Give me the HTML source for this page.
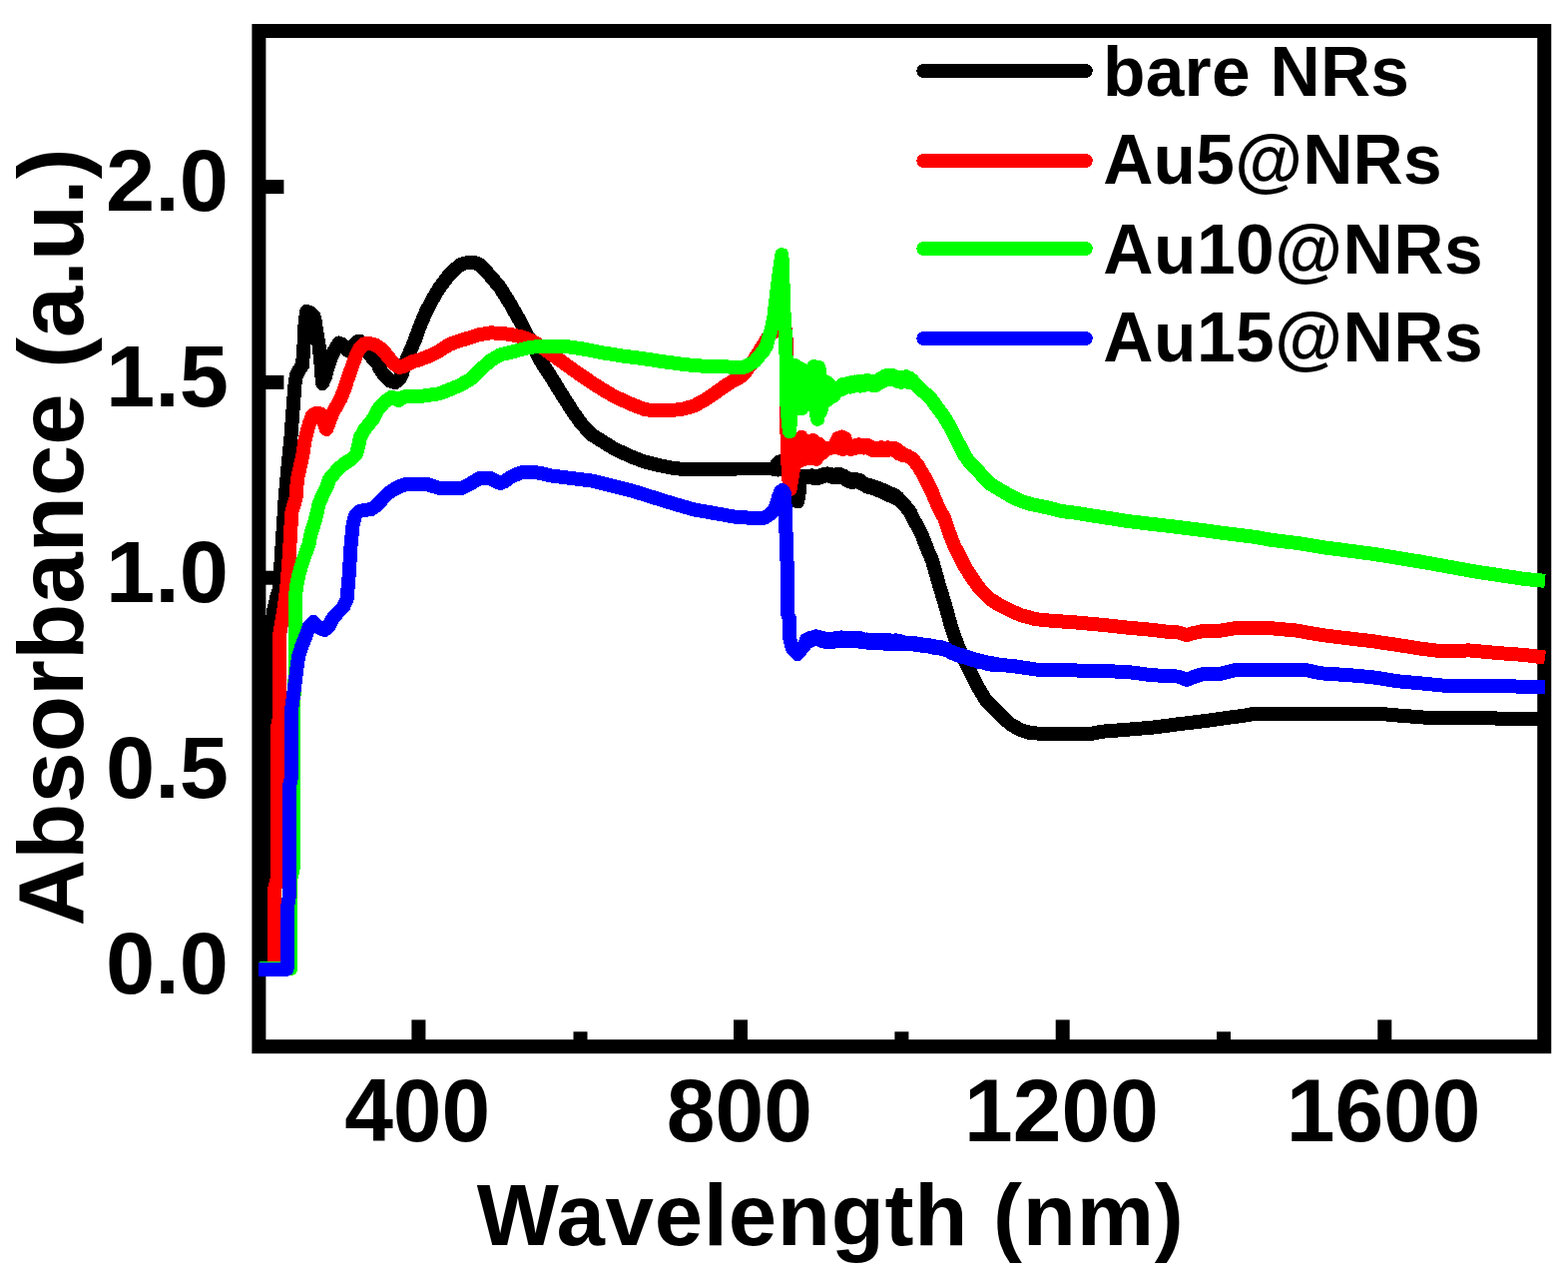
<!DOCTYPE html>
<html lang="en">
<head>
<meta charset="utf-8">
<title>Absorbance vs Wavelength</title>
<style>
html,body{margin:0;padding:0;background:#fff;}
body{width:1571px;height:1286px;overflow:hidden;}
svg{display:block;}
text{font-family:"Liberation Sans",Arial,Helvetica,sans-serif;font-weight:bold;fill:#000;}
.c{fill:none;stroke-width:14;stroke-linejoin:round;stroke-linecap:butt;}
</style>
</head>
<body>
<svg width="1571" height="1286" viewBox="0 0 1571 1286">
<rect x="0" y="0" width="1571" height="1286" fill="#ffffff"/>
<g fill="#000">
<rect x="259.4" y="31" width="1287.85" height="1017.2" fill="none" stroke="#000" stroke-width="14"/>
<rect x="412.4" y="1021.4" width="14" height="21"/>
<rect x="735.0" y="1021.4" width="14" height="21"/>
<rect x="1057.7" y="1021.4" width="14" height="21"/>
<rect x="1380.3" y="1021.4" width="14" height="21"/>
<rect x="574.5" y="1033.3" width="14" height="9"/>
<rect x="896.4" y="1033.3" width="14" height="9"/>
<rect x="1219.0" y="1033.3" width="14" height="9"/>
<rect x="265" y="180.1" width="19.4" height="14"/>
<rect x="265" y="375.9" width="19.4" height="14"/>
<rect x="265" y="571.7" width="19.4" height="14"/>
<rect x="265" y="767.5" width="19.4" height="14"/>
<rect x="265" y="963.3" width="19.4" height="14"/>
</g>
<g shape-rendering="crispEdges">
<polyline class="c" stroke="#000000" points="260.0,970.0 264.0,960.0 265.0,900.0 266.5,800.0 268.5,700.0 271.0,640.0 274.0,612.0 277.6,597.0 279.9,590.0 281.7,560.0 283.7,530.0 285.6,500.0 287.8,475.0 289.8,454.0 291.7,435.0 293.6,409.0 295.5,385.0 297.0,376.0 300.0,370.0 303.0,366.0 304.5,345.0 305.5,325.0 307.0,312.0 311.0,313.0 314.0,316.0 315.3,319.0 317.2,332.0 319.7,347.0 321.6,366.0 323.0,384.0 326.0,377.0 329.0,366.0 332.0,357.0 335.0,351.0 339.5,343.5 343.0,345.0 347.0,350.0 350.0,351.5 353.0,348.0 357.0,343.0 360.0,341.5 364.0,347.0 368.0,353.0 372.0,357.0 375.0,360.6 378.4,364.5 381.0,370.0 384.0,374.6 388.0,378.5 391.0,381.5 396.0,383.0 400.0,380.0 403.0,374.0 405.5,366.0 408.0,359.0 412.0,349.5 416.0,340.0 419.8,329.0 423.6,320.0 427.5,311.0 431.0,304.5 435.0,297.0 440.2,288.5 450.4,275.0 460.6,265.5 466.0,263.5 472.0,262.8 477.0,263.5 481.0,265.5 491.2,276.2 501.4,288.5 511.6,305.0 521.8,323.0 532.0,343.0 542.2,362.4 552.4,378.0 563.5,396.0 574.0,412.5 583.0,425.0 593.3,435.7 603.5,442.0 613.7,448.5 623.9,453.5 634.0,458.0 644.3,462.0 659.6,466.0 674.9,468.9 685.0,470.0 740.0,469.5 774.0,469.5 776.5,470.0 778.0,465.0 779.5,470.5 781.0,462.5 782.5,470.5 784.5,461.0 787.0,468.0 792.0,468.0 796.0,472.0 798.0,482.0 799.0,502.4 800.5,495.0 801.2,485.0 803.0,478.0 806.0,476.5 810.0,476.5 811.6,478.0 813.2,476.2 814.8,478.9 816.4,477.0 818.0,479.5 819.6,477.1 821.2,478.6 822.8,475.8 824.4,477.3 826.0,474.6 827.6,476.1 829.2,474.4 830.8,477.0 832.4,474.8 834.0,477.7 835.6,475.9 837.2,478.1 838.8,475.0 840.4,477.6 842.0,475.0 843.6,478.0 845.2,476.6 846.8,480.0 848.4,478.5 850.0,481.7 851.6,480.8 853.2,483.0 854.8,480.3 856.4,482.6 858.0,480.1 859.6,482.6 861.2,480.8 862.8,484.3 864.4,483.1 866.0,486.0 867.6,484.9 869.2,487.7 870.8,485.7 872.4,488.4 874.0,486.5 875.6,489.5 877.2,487.7 878.8,490.8 880.4,488.7 882.0,491.8 883.6,490.2 885.2,493.4 886.8,491.4 888.4,495.0 890.0,493.1 891.6,496.4 893.2,494.5 894.8,497.5 896.4,495.8 898.0,499.2 899.6,498.3 901.2,501.0 902.8,502.3 903.0,502.5 907.0,506.7 912.0,513.0 916.0,521.5 920.0,528.3 923.7,536.0 927.5,545.7 930.3,553.0 933.5,560.0 937.3,573.0 940.8,585.5 944.0,596.0 948.5,611.0 952.0,624.0 956.0,636.5 961.0,650.0 966.8,662.0 973.2,674.8 979.6,687.6 987.2,700.3 999.5,713.0 1012.0,725.0 1022.4,731.0 1032.7,734.2 1043.0,734.7 1094.0,734.7 1104.0,732.7 1129.6,730.7 1155.0,728.6 1180.6,725.3 1206.0,722.2 1231.6,718.7 1247.5,716.5 1257.7,714.7 1380.0,714.7 1400.6,716.5 1426.0,718.5 1495.0,718.5 1502.6,720.3 1548.0,720.3"/>
<polyline class="c" stroke="#ff0000" points="260.0,970.0 275.3,970.0 275.3,890.0 277.6,880.0 277.6,730.0 279.6,720.0 279.6,640.0 281.4,628.0 283.7,615.0 285.6,602.0 287.6,585.0 289.7,558.0 291.5,527.0 292.5,512.0 296.5,499.0 297.0,490.0 298.4,478.0 301.5,464.0 303.5,455.0 305.5,441.0 307.5,433.0 310.0,424.0 313.0,416.0 318.0,413.5 322.0,415.0 324.0,422.0 327.0,430.0 329.5,424.0 332.0,417.0 335.0,410.5 338.0,405.5 341.5,399.0 345.0,390.0 348.3,380.0 351.0,372.0 353.5,365.0 357.3,355.0 361.0,348.0 365.0,344.5 368.0,344.0 373.0,344.5 377.0,346.0 383.0,350.0 387.0,355.0 391.0,360.0 395.0,364.5 400.0,368.0 403.0,367.5 408.0,365.0 414.0,362.0 420.0,360.5 425.0,358.5 430.0,356.6 440.2,351.5 450.4,345.0 460.6,341.3 470.8,338.2 481.0,335.0 491.2,333.4 501.4,333.7 511.6,335.0 521.8,337.2 532.0,340.8 542.2,347.0 552.4,354.8 562.7,362.0 572.9,369.5 583.0,376.5 593.3,383.5 603.5,390.0 613.7,396.0 623.9,401.0 634.0,405.5 646.8,410.3 659.6,411.4 669.8,411.4 685.0,409.5 695.3,406.5 705.5,401.0 715.7,394.3 726.0,386.7 736.0,380.5 740.0,378.6 745.0,375.0 750.0,368.0 755.0,361.0 760.0,353.0 765.0,345.0 770.0,337.0 774.0,333.0 777.0,331.5 783.0,331.0 787.3,331.4 787.6,340.0 788.2,415.0 788.8,452.0 790.3,480.0 791.5,490.0 795.0,470.0 798.0,445.0 801.0,462.0 803.0,438.0 806.0,460.0 809.0,442.0 812.0,459.0 815.0,441.0 818.0,460.0 821.0,445.0 824.0,454.0 826.7,451.0 831.0,449.0 835.7,448.0 838.2,442.0 840.0,438.5 841.5,449.0 843.3,437.5 845.0,450.0 846.5,439.0 848.4,445.0 851.0,449.5 852.6,450.2 854.2,446.9 855.8,449.3 857.4,445.9 859.0,448.5 860.6,445.3 862.2,447.7 863.8,445.7 865.4,448.5 867.0,445.6 868.6,448.5 870.2,446.2 871.8,449.3 873.4,447.9 875.0,451.2 876.6,448.7 878.2,450.9 879.8,449.0 881.4,451.0 883.0,448.2 884.6,451.1 886.2,448.5 887.8,450.8 889.4,448.3 891.0,450.7 892.6,448.7 894.2,450.8 895.8,448.6 897.4,451.4 899.0,450.3 900.6,454.4 902.2,452.6 903.8,455.8 905.4,455.3 907.0,455.9 908.6,456.5 910.0,457.0 914.7,460.0 920.0,466.8 926.5,478.0 930.0,485.0 934.0,493.0 937.0,500.6 940.8,509.2 946.0,518.7 951.0,533.5 956.0,546.2 961.2,556.4 966.3,566.6 971.4,574.8 976.5,582.4 981.6,589.6 986.7,594.7 991.8,599.8 1002.0,606.4 1012.0,611.3 1022.4,616.0 1037.8,620.2 1053.0,621.7 1078.6,623.5 1104.0,625.8 1129.6,628.6 1155.0,630.9 1171.0,633.0 1180.6,633.5 1189.0,636.2 1196.0,634.0 1204.0,632.3 1222.0,631.8 1242.0,628.5 1265.0,628.5 1298.5,631.5 1324.0,636.0 1349.6,639.2 1375.0,642.2 1400.6,646.0 1426.0,650.0 1446.5,652.4 1472.0,651.4 1502.6,654.2 1528.0,656.0 1548.0,658.6"/>
<polyline class="c" stroke="#00ff00" points="260.0,970.0 291.4,970.0 291.4,880.0 293.6,870.0 293.6,713.0 295.5,680.0 295.5,600.0 297.5,585.0 299.5,575.0 303.0,563.0 309.5,545.0 311.4,535.0 315.6,522.0 317.5,514.0 319.4,505.0 323.3,496.0 327.4,488.0 330.0,480.0 338.5,470.0 345.5,464.0 352.0,460.0 357.0,455.0 359.3,446.0 361.0,438.0 365.5,430.0 373.5,420.0 379.0,410.0 385.0,403.0 392.0,398.0 396.0,398.5 399.4,401.0 404.5,397.5 415.0,397.0 425.0,396.5 430.0,395.8 440.2,394.2 450.4,390.3 460.6,386.0 470.8,380.3 481.0,370.6 491.2,361.2 501.4,355.3 511.6,352.8 521.8,350.2 532.0,347.7 542.0,347.1 568.0,347.1 583.0,349.3 603.5,353.3 623.9,356.5 644.3,359.2 664.7,362.2 685.0,365.0 705.5,366.8 726.0,367.3 736.0,367.8 740.0,368.4 745.0,368.0 750.5,365.2 756.2,362.0 761.0,356.0 765.0,351.5 768.0,346.0 769.8,339.5 771.8,333.0 773.5,327.0 775.4,317.0 777.4,300.0 779.5,282.0 781.4,268.0 783.4,255.2 784.4,280.0 785.3,310.0 787.4,345.0 788.0,400.0 790.0,425.0 791.0,432.3 794.5,395.0 797.0,366.0 799.0,409.0 801.5,369.0 803.5,409.0 806.0,371.0 808.0,400.0 810.5,372.0 813.0,405.0 815.3,367.0 817.5,412.0 819.0,420.0 820.5,368.0 822.5,412.0 824.0,380.0 826.0,402.0 828.0,383.0 830.0,400.0 832.0,386.0 835.0,397.0 838.0,391.0 840.8,389.0 842.4,390.6 844.0,385.1 845.6,388.9 847.2,384.8 848.8,387.7 850.4,383.7 852.0,387.6 853.6,383.0 855.2,386.8 856.8,382.5 858.4,386.4 860.0,382.1 861.6,386.6 863.2,382.3 864.8,386.1 866.4,381.5 868.0,385.1 869.6,381.0 871.2,385.5 872.8,381.7 874.4,386.0 876.0,381.6 877.6,386.1 879.2,381.1 880.8,383.6 882.4,378.9 884.0,382.6 885.6,377.1 887.2,379.5 888.8,375.9 890.4,379.3 892.0,375.6 893.6,380.4 895.2,376.3 896.8,380.7 898.4,377.5 900.0,382.2 901.6,378.4 903.2,382.9 904.8,377.8 906.4,381.4 908.0,377.3 909.6,382.7 911.2,378.5 912.8,383.4 914.4,381.0 916.0,384.0 917.6,385.2 918.6,386.0 925.5,392.7 931.3,397.4 935.7,403.4 946.0,417.4 951.0,425.8 956.0,435.3 961.2,445.5 966.3,455.7 971.4,462.8 976.5,468.4 981.6,473.5 986.7,479.4 991.8,484.5 1002.0,490.6 1012.0,496.5 1022.4,501.6 1032.7,504.9 1042.9,507.0 1053.0,509.2 1063.3,512.0 1078.6,513.8 1093.9,516.4 1109.2,518.7 1129.6,522.0 1155.0,525.0 1180.6,528.0 1206.0,531.2 1231.6,534.7 1257.0,537.8 1273.0,540.7 1300.0,544.0 1324.0,548.0 1375.0,554.7 1426.0,563.0 1477.0,572.3 1528.0,580.0 1548.0,581.8"/>
<polyline class="c" stroke="#0000ff" points="258.5,970.8 287.6,970.8 287.6,910.0 289.5,900.0 289.5,790.0 291.6,780.0 291.6,713.0 293.6,700.0 295.5,685.0 297.4,669.0 299.3,657.0 302.0,648.0 306.0,638.0 310.0,627.0 314.0,623.0 319.0,628.0 325.0,631.0 329.0,628.0 333.0,620.0 338.0,614.0 344.0,608.0 347.6,600.0 349.7,576.0 351.6,546.0 353.5,526.0 356.0,516.0 360.0,512.0 366.0,511.0 372.0,510.0 378.0,506.0 384.0,499.0 389.0,494.0 395.0,490.0 401.0,487.0 407.0,485.0 428.0,485.0 434.0,487.0 440.0,488.7 463.0,488.7 470.8,484.9 477.0,481.0 481.0,479.0 491.2,479.0 496.0,481.5 501.4,484.1 506.0,482.0 511.6,477.8 521.8,473.4 532.0,472.7 542.2,474.0 552.4,476.5 572.9,479.0 593.3,481.6 613.7,486.7 634.0,491.8 654.5,498.2 674.9,504.5 695.3,510.4 715.7,514.0 736.0,517.6 751.4,518.7 766.0,518.7 770.0,516.0 774.0,513.0 776.5,510.0 778.5,503.0 780.5,496.5 782.5,492.0 784.0,491.0 785.8,494.0 786.5,505.0 787.4,530.0 788.4,558.0 789.4,590.0 789.4,616.0 791.4,620.0 791.4,640.0 794.0,650.0 799.0,655.0 803.0,650.0 804.6,647.4 806.2,646.2 807.8,640.7 809.4,642.8 811.0,639.1 812.6,641.7 814.2,638.3 815.8,640.5 817.4,637.4 819.0,640.4 820.6,637.9 822.2,641.7 823.8,638.6 825.4,642.5 827.0,639.6 828.6,643.3 830.2,640.7 831.8,643.4 833.4,639.6 835.0,642.8 836.6,639.2 838.2,642.4 839.8,639.3 841.4,642.0 843.0,638.4 844.6,641.5 846.2,639.1 847.8,642.2 849.4,638.9 851.0,642.2 852.6,638.7 854.2,642.4 855.8,638.8 857.4,642.3 859.0,639.1 860.6,642.6 862.2,639.3 863.8,643.2 865.4,640.3 867.0,642.9 868.6,640.5 870.2,643.9 871.8,640.6 873.4,643.9 875.0,641.0 876.6,644.1 878.2,641.2 879.8,644.2 881.4,641.2 883.0,644.5 884.6,641.0 886.2,644.7 887.8,641.1 889.4,645.0 891.0,641.2 892.6,644.9 894.2,642.1 895.8,645.2 897.4,641.4 899.0,645.4 900.6,641.9 902.2,645.4 903.8,642.5 905.4,643.9 907.0,644.6 908.6,643.7 910.2,644.9 911.8,643.9 913.4,645.0 915.0,644.1 916.6,645.7 918.2,644.5 919.8,646.1 921.4,645.2 923.0,646.6 924.6,645.6 926.2,646.9 927.8,646.2 929.4,647.4 931.0,646.4 932.6,648.1 934.2,646.9 935.8,648.6 937.4,647.6 939.0,649.0 940.6,648.0 942.2,649.6 943.8,648.4 945.4,650.2 947.0,649.5 948.6,651.4 950.2,650.9 951.8,653.0 953.4,652.6 955.0,654.5 956.6,654.1 958.2,655.9 959.8,654.9 961.4,656.8 963.0,656.1 964.6,657.9 966.2,657.0 967.8,659.0 969.4,658.0 971.0,659.9 972.6,659.2 974.2,660.9 975.8,660.2 977.4,661.7 979.0,661.1 980.6,662.8 982.2,662.0 983.8,663.3 985.4,662.5 987.0,664.1 988.6,663.4 990.2,665.0 991.8,664.2 993.4,665.8 995.0,664.6 996.6,665.9 998.2,664.9 999.8,666.3 1001.4,665.8 1003.0,665.9 1004.6,666.1 1006.2,666.3 1007.8,666.4 1009.4,666.6 1011.0,666.8 1012.6,666.9 1014.2,667.1 1015.8,667.2 1017.3,667.4 1037.8,670.5 1078.6,671.5 1104.0,672.0 1129.6,673.0 1155.0,676.3 1171.0,677.0 1180.6,677.6 1189.0,680.8 1196.0,678.0 1204.0,675.4 1222.0,675.0 1240.0,670.6 1306.0,670.6 1324.0,674.4 1349.6,676.0 1375.0,678.2 1400.6,682.3 1426.0,684.6 1446.0,686.6 1490.0,686.6 1548.0,688.4"/>
</g>
<g shape-rendering="crispEdges" fill="none" stroke-width="14" stroke-linecap="round">
<line x1="925.3" y1="71" x2="1087.8" y2="71" stroke="#000000"/>
<line x1="925.3" y1="161" x2="1087.8" y2="161" stroke="#ff0000"/>
<line x1="925.3" y1="249" x2="1087.8" y2="249" stroke="#00ff00"/>
<line x1="925.3" y1="339" x2="1087.8" y2="339" stroke="#0000ff"/>
</g>
<text transform="translate(1105.0 95.7) scale(1 1.02)" font-size="69.5" text-anchor="start" textLength="307" lengthAdjust="spacing">bare NRs</text>
<text transform="translate(1105.2 184.0) scale(1 1.02)" font-size="69.5" text-anchor="start" textLength="339.5" lengthAdjust="spacing">Au5@NRs</text>
<text transform="translate(1105.2 273.8) scale(1 1.02)" font-size="69.5" text-anchor="start" textLength="380.5" lengthAdjust="spacing">Au10@NRs</text>
<text transform="translate(1105.2 361.7) scale(1 1.02)" font-size="69.5" text-anchor="start" textLength="380.5" lengthAdjust="spacing">Au15@NRs</text>
<text transform="translate(418.2 1143.1) scale(1.007 1.012)" font-size="87" text-anchor="middle">400</text>
<text transform="translate(740.8 1143.1) scale(1.007 1.012)" font-size="87" text-anchor="middle">800</text>
<text transform="translate(1063.5 1143.1) scale(1.007 1.012)" font-size="87" text-anchor="middle">1200</text>
<text transform="translate(1386.1 1143.1) scale(1.007 1.012)" font-size="87" text-anchor="middle">1600</text>
<text transform="translate(229.0 211.3) scale(1.017 1.012)" font-size="87" text-anchor="end">2.0</text>
<text transform="translate(229.0 407.1) scale(1.017 1.012)" font-size="87" text-anchor="end">1.5</text>
<text transform="translate(229.0 602.9) scale(1.017 1.012)" font-size="87" text-anchor="end">1.0</text>
<text transform="translate(229.0 798.7) scale(1.017 1.012)" font-size="87" text-anchor="end">0.5</text>
<text transform="translate(229.0 994.5) scale(1.017 1.012)" font-size="87" text-anchor="end">0.0</text>
<text transform="translate(477.8 1247.3) scale(1 1.0)" font-size="87" text-anchor="start" textLength="708" lengthAdjust="spacing">Wavelength (nm)</text>
<text transform="translate(82.7 927.5) rotate(-90) scale(1 1.0)" font-size="92.3" text-anchor="start" textLength="779" lengthAdjust="spacing">Absorbance (a.u.)</text>
</svg>
</body>
</html>
